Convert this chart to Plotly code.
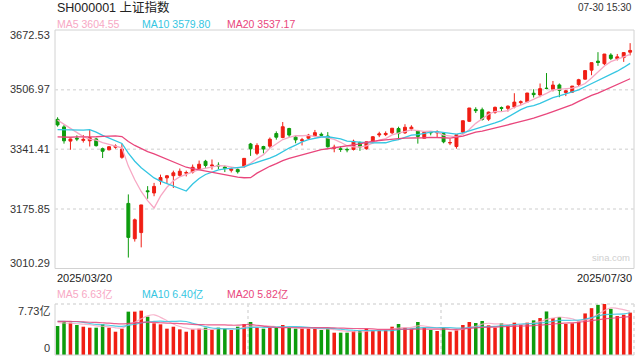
import plotly.graph_objects as go
import pandas as pd

# ---------------- data ----------------
dates = ["2025-03-20", "2025-07-30"]
title_text = "SH000001 上证指数"
time_text = "07-30 15:30"

opens = [3424.5, 3403.5, 3364.0, 3372.0, 3366.0, 3365.0, 3370.0, 3343.0, 3340.0, 3347.0,
         3319.0, 3191.0, 3093.0, 3110.0, 3226.0, 3220.0, 3253.0, 3262.0, 3268.0, 3269.0,
         3275.0, 3278.0, 3288.0, 3308.0, 3295.0, 3297.0, 3292.0, 3283.0, 3285.0, 3293.0,
         3356.0, 3330.0, 3349.0, 3350.0, 3385.0, 3374.0, 3399.0, 3375.0, 3365.0, 3372.0,
         3379.0, 3383.0, 3378.0, 3344.0, 3343.0, 3341.0, 3341.0, 3360.0, 3343.0, 3362.0,
         3381.0, 3382.0, 3387.0, 3399.0, 3387.0, 3398.0, 3392.0, 3372.0, 3390.0, 3387.0,
         3385.0, 3359.0, 3349.0, 3389.0, 3419.0, 3452.0, 3451.0, 3425.0, 3444.0, 3457.0,
         3455.0, 3459.0, 3471.0, 3473.0, 3497.0, 3492.0, 3511.0, 3508.0, 3520.0, 3499.0,
         3500.0, 3521.0, 3536.0, 3561.0, 3586.0, 3579.0, 3603.0, 3593.0, 3596.0, 3611.0]
highs = [3430.2, 3409.0, 3371.0, 3380.0, 3381.0, 3395.0, 3373.0, 3346.0, 3350.0, 3355.0,
         3357.0, 3216.0, 3149.0, 3187.0, 3239.0, 3248.0, 3271.0, 3270.0, 3282.0, 3288.0,
         3282.0, 3299.0, 3310.0, 3312.0, 3313.0, 3305.0, 3296.0, 3291.0, 3290.0, 3317.0,
         3359.0, 3358.0, 3351.0, 3374.0, 3391.0, 3417.0, 3401.0, 3381.0, 3373.0, 3384.0,
         3395.0, 3388.0, 3389.0, 3354.0, 3350.0, 3346.0, 3368.0, 3363.0, 3363.0, 3378.0,
         3390.0, 3391.0, 3400.0, 3404.0, 3411.0, 3408.0, 3395.0, 3390.0, 3392.0, 3394.0,
         3387.0, 3371.0, 3382.0, 3421.0, 3456.0, 3458.0, 3457.0, 3446.0, 3460.0, 3460.0,
         3463.0, 3497.0, 3477.0, 3498.0, 3508.0, 3524.0, 3553.0, 3531.0, 3524.0, 3506.0,
         3517.0, 3537.0, 3561.0, 3582.0, 3611.0, 3606.0, 3608.0, 3606.0, 3611.0, 3636.0]
lows = [3404.2, 3357.0, 3340.0, 3364.0, 3360.0, 3349.0, 3349.0, 3317.0, 3338.0, 3343.0,
        3315.0, 3040.69, 3085.0, 3069.0, 3204.0, 3211.0, 3243.0, 3246.0, 3234.0, 3265.0,
        3266.0, 3274.0, 3285.0, 3290.0, 3285.0, 3286.0, 3278.0, 3277.0, 3274.0, 3290.0,
        3323.0, 3325.0, 3330.0, 3345.0, 3368.0, 3372.0, 3375.0, 3358.0, 3352.0, 3368.0,
        3375.0, 3377.0, 3346.0, 3333.0, 3334.0, 3333.0, 3338.0, 3337.0, 3340.0, 3358.0,
        3375.0, 3378.0, 3384.0, 3367.0, 3384.0, 3392.0, 3357.0, 3371.0, 3380.0, 3375.0,
        3358.0, 3353.0, 3343.0, 3385.0, 3417.0, 3442.0, 3421.0, 3420.0, 3440.0, 3445.0,
        3446.0, 3455.0, 3465.0, 3473.0, 3485.0, 3486.0, 3508.0, 3502.0, 3486.0, 3489.0,
        3498.0, 3517.0, 3535.0, 3547.0, 3573.0, 3575.0, 3589.0, 3588.0, 3584.0, 3602.0]
closes = [3408.95, 3364.83, 3370.03, 3369.98, 3368.70, 3373.75, 3351.31, 3335.75, 3348.44, 3350.13,
          3342.01, 3096.58, 3145.55, 3186.81, 3223.64, 3238.23, 3262.81, 3267.66, 3276.00, 3280.34,
          3276.73, 3291.43, 3299.76, 3296.36, 3297.29, 3295.06, 3288.41, 3286.65, 3279.03, 3316.11,
          3342.67, 3352.00, 3342.00, 3369.24, 3374.87, 3403.95, 3380.82, 3367.46, 3367.58, 3380.48,
          3387.57, 3380.19, 3348.37, 3346.84, 3340.69, 3339.93, 3363.45, 3347.49, 3361.98, 3376.20,
          3384.10, 3385.36, 3399.77, 3384.82, 3402.32, 3402.66, 3377.00, 3388.73, 3387.40, 3388.81,
          3362.11, 3359.90, 3381.58, 3420.57, 3455.97, 3448.45, 3424.23, 3444.43, 3457.75, 3454.79,
          3461.15, 3472.32, 3473.13, 3497.48, 3493.05, 3509.68, 3510.18, 3519.65, 3505.00, 3503.78,
          3516.83, 3534.48, 3559.79, 3581.86, 3582.30, 3605.73, 3593.66, 3597.94, 3609.71, 3615.72]
# volume in 亿
volumes = [4.40, 5.15, 4.90, 4.55, 4.29, 4.14, 4.14, 4.65, 4.14, 3.53,
           3.99, 6.57, 6.57, 6.72, 5.81, 4.80, 4.65, 3.99, 4.29, 3.89,
           3.53, 3.89, 3.99, 4.14, 3.79, 4.14, 4.04, 3.79, 4.29, 4.70,
           5.00, 4.14, 3.99, 4.14, 4.14, 4.55, 4.14, 3.99, 3.99, 3.99,
           3.99, 3.79, 3.99, 3.38, 3.38, 3.38, 3.64, 3.64, 3.99, 3.79,
           3.79, 3.79, 4.29, 4.70, 4.14, 3.99, 5.00, 4.14, 3.79, 3.64,
           4.14, 3.53, 3.79, 4.55, 5.00, 4.85, 5.15, 4.50, 4.14, 4.80,
           4.50, 4.90, 4.60, 4.90, 5.25, 5.60, 6.60, 5.60, 5.75, 4.70,
           4.80, 5.05, 6.30, 7.10, 7.60, 7.73, 7.00, 5.90, 6.10, 6.42]
# closes / volumes of the 19 sessions before the window (moving-average warm-up)
prior_closes = [3379.11, 3373.03, 3346.04, 3380.21, 3388.06, 3320.90, 3316.93, 3324.21, 3341.96, 3381.10,
                3372.55, 3366.16, 3379.83, 3371.92, 3358.73, 3419.56, 3426.43, 3429.76, 3426.43]
prior_volumes = [4.9, 5.3, 4.7, 5.5, 5.1, 4.8, 5.6, 5.2, 5.0, 4.6,
                 5.4, 5.0, 4.9, 5.3, 5.8, 5.6, 5.1, 4.9, 4.7]

price_ticks = [3672.53, 3506.97, 3341.41, 3175.85, 3010.29]
vol_max = 7.73

# ---------------- derived ----------------
n = len(closes)
xs = list(range(n))
pc = pd.Series(prior_closes + closes)
pv = pd.Series(prior_volumes + volumes)
np_ = len(prior_closes)
ma = {k: pc.rolling(k).mean().iloc[np_:].tolist() for k in (5, 10, 20)}
vma = {k: pv.rolling(k).mean().iloc[np_:].tolist() for k in (5, 10, 20)}

RED = "#f01e14"
GREEN = "#0d9c0d"
C5 = "#f7a8c4"
C10 = "#35c6e2"
C20 = "#e9467c"
FONT = "Arial, Liberation Sans, Noto Sans CJK SC, sans-serif"

bar_colors = [RED if c >= o else GREEN for o, c in zip(opens, closes)]

# layout geometry (pixels)
L, R, T, B = 55, 6, 30, 5
W, H = 640, 360
PW, PH = W - L - R, H - T - B
main_bottom_px = 268.5
vol_top_px = 304.0


def fx(p):
    return (p - L) / PW


def fy(p):
    return (H - B - p) / PH


fig = go.Figure()
fig.add_trace(go.Candlestick(
    x=xs, open=opens, high=highs, low=lows, close=closes,
    increasing=dict(line=dict(color=RED, width=1), fillcolor=RED),
    decreasing=dict(line=dict(color=GREEN, width=1), fillcolor=GREEN),
    whiskerwidth=0, xaxis="x", yaxis="y", showlegend=False, hoverinfo="skip"))
for k, col in ((5, C5), (10, C10), (20, C20)):
    fig.add_trace(go.Scatter(x=xs, y=ma[k], mode="lines", line=dict(color=col, width=1.3),
                             xaxis="x", yaxis="y", showlegend=False, hoverinfo="skip"))

fig.add_trace(go.Bar(x=xs, y=volumes, marker=dict(color=bar_colors, line=dict(width=0)),
                     width=0.55, xaxis="x2", yaxis="y2", showlegend=False, hoverinfo="skip"))
for k, col in ((5, C5), (10, C10), (20, C20)):
    fig.add_trace(go.Scatter(x=xs, y=vma[k], mode="lines", line=dict(color=col, width=1.2, shape="spline"),
                             opacity=0.85, xaxis="x2", yaxis="y2", showlegend=False, hoverinfo="skip"))

main_dom = [fy(main_bottom_px), 1]
vol_dom = [0, fy(vol_top_px)]
xr = [-0.4, n - 0.4]

shapes = []
# main box
shapes.append(dict(type="rect", xref="paper", yref="paper", x0=0, x1=1, y0=main_dom[0], y1=1,
                   line=dict(color="#d2d2d2", width=1), layer="below"))
for v in price_ticks[1:-1]:
    shapes.append(dict(type="line", xref="paper", yref="y", x0=0, x1=1, y0=v, y1=v,
                       line=dict(color="#dedede", width=1.5, dash="dot"), layer="below"))
# volume panel
shapes.append(dict(type="line", xref="paper", yref="paper", x0=0, x1=0, y0=0, y1=vol_dom[1],
                   line=dict(color="#d2d2d2", width=1)))
shapes.append(dict(type="line", xref="paper", yref="paper", x0=0, x1=1, y0=0, y1=0,
                   line=dict(color="#d2d2d2", width=1)))
shapes.append(dict(type="line", xref="paper", yref="paper", x0=0, x1=1, y0=vol_dom[1], y1=vol_dom[1],
                   line=dict(color="#dcdcdc", width=1.5, dash="dot"), layer="below"))
for xx in (1 / 3, 2 / 3, 1):
    shapes.append(dict(type="line", xref="paper", yref="paper", x0=xx, x1=xx, y0=0, y1=vol_dom[1],
                       line=dict(color="#dcdcdc", width=1.5, dash="dot"), layer="below"))

ann = []


def text(x, y, s, color="#333333", size=11, anchor="left"):
    ann.append(dict(x=fx(x), y=fy(y), xref="paper", yref="paper", text=s, showarrow=False,
                    xanchor=anchor, yanchor="middle", font=dict(family=FONT, size=size, color=color)))


text(55, 8, title_text, "#222222", 12.5)
text(634, 8, time_text, "#333333", 10, "right")
text(55, 24, f"MA5 {ma[5][-1]:.2f}", C5, 10.5)
text(140, 24, f"MA10 {ma[10][-1]:.2f}", C10, 10.5)
text(225, 24, f"MA20 {ma[20][-1]:.2f}", C20, 10.5)

label_y = [35, 89.5, 149, 209, 263]
for v, yy in zip(price_ticks, label_y):
    text(52, yy, f"{v:.2f}", "#333333", 11, "right")

text(55, 278, dates[0].replace("-", "/"), "#222222", 11)
text(634, 278, dates[-1].replace("-", "/"), "#222222", 11, "right")
text(632, 257, "sina.com", "#cfcfcf", 9.5, "right")

text(55, 294, f"MA5 {vma[5][-1]:.2f}亿", C5, 10.5)
text(140, 294, f"MA10 {vma[10][-1]:.2f}亿", C10, 10.5)
text(225, 294, f"MA20 {vma[20][-1]:.2f}亿", C20, 10.5)
text(52, 311, f"{vol_max:.2f}亿", "#333333", 11, "right")
text(52, 348, "0", "#333333", 11, "right")

fig.update_layout(
    width=W, height=H, margin=dict(l=L, r=R, t=T, b=B),
    paper_bgcolor="white", plot_bgcolor="white",
    boxgap=0.35, bargap=0.4,
    xaxis=dict(domain=[0, 1], range=xr, visible=False, anchor="y", rangeslider=dict(visible=False)),
    xaxis2=dict(domain=[0, 1], range=xr, visible=False, anchor="y2", matches="x"),
    yaxis=dict(domain=main_dom, range=[price_ticks[-1], price_ticks[0]], visible=False),
    yaxis2=dict(domain=vol_dom, range=[0, vol_max], visible=False),
    shapes=shapes, annotations=ann, font=dict(family=FONT),
)

fig.write_html("out.html", config={"displayModeBar": False},
               post_script="document.body.style.margin='0';document.body.style.overflow='hidden';")
